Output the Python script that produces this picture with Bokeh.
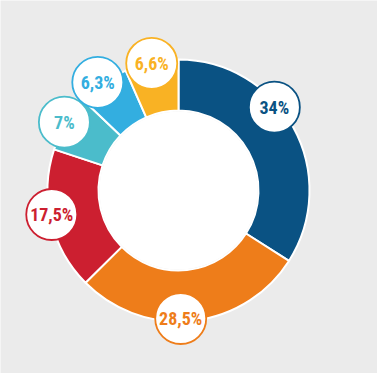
import math
from bokeh.plotting import figure
from bokeh.models import Range1d
from bokeh.core.properties import value
from bokeh.embed import file_html
from bokeh.resources import INLINE

# data
labels = ["34%", "28,5%", "17,5%", "7%", "6,3%", "6,6%"]
values = [34.0, 28.5, 17.5, 7.0, 6.3, 6.6]
colors = ["#0a5283", "#ee7d1a", "#cc1f30", "#4bbccb", "#33aee0", "#f9b224"]

# style: where along each slice the label bubble sits (fraction) and its radius
label_frac = [0.40, 0.55, 0.54, 0.5, 0.43, 0.5]
label_rad = [127, 128, 129, 133, 135, 130]

W, H = 377, 373
cx, cy = 178, H - 190
r_in, r_out = 80, 131

p = figure(width=W, height=H, output_backend="svg", toolbar_location=None,
           x_range=Range1d(0, W), y_range=Range1d(0, H), min_border=0,
           background_fill_color="#ebebeb", border_fill_color="#ebebeb")
p.axis.visible = False
p.grid.visible = False
p.outline_line_color = None

total = sum(values)
starts, ends, lx, ly = [], [], [], []
acc = 0.0
for i, v in enumerate(values):
    a0 = acc / total * 2 * math.pi
    a1 = (acc + v) / total * 2 * math.pi
    # clockwise from top -> bokeh anticlockwise angles
    starts.append(math.pi / 2 - a1)
    ends.append(math.pi / 2 - a0)
    am = a0 + (a1 - a0) * label_frac[i]
    lx.append(cx + label_rad[i] * math.sin(am))
    ly.append(cy + label_rad[i] * math.cos(am))
    acc += v

p.annular_wedge(x=cx, y=cy, inner_radius=r_in, outer_radius=r_out,
                start_angle=starts, end_angle=ends, fill_color=colors,
                line_color="white", line_width=2)
p.circle(x=[cx], y=[cy], radius=r_in - 1, fill_color="white", line_color=None)

p.circle(x=lx, y=ly, radius=25.5, fill_color="white", line_color=colors, line_width=1.8)
p.text(x=lx, y=ly, text=labels, text_color=colors, text_align="center",
       text_baseline="middle", text_font=value("Roboto Condensed, Roboto"),
       text_font_style="bold", text_font_size="18px")

open("out.html", "w").write(file_html(p, INLINE))
